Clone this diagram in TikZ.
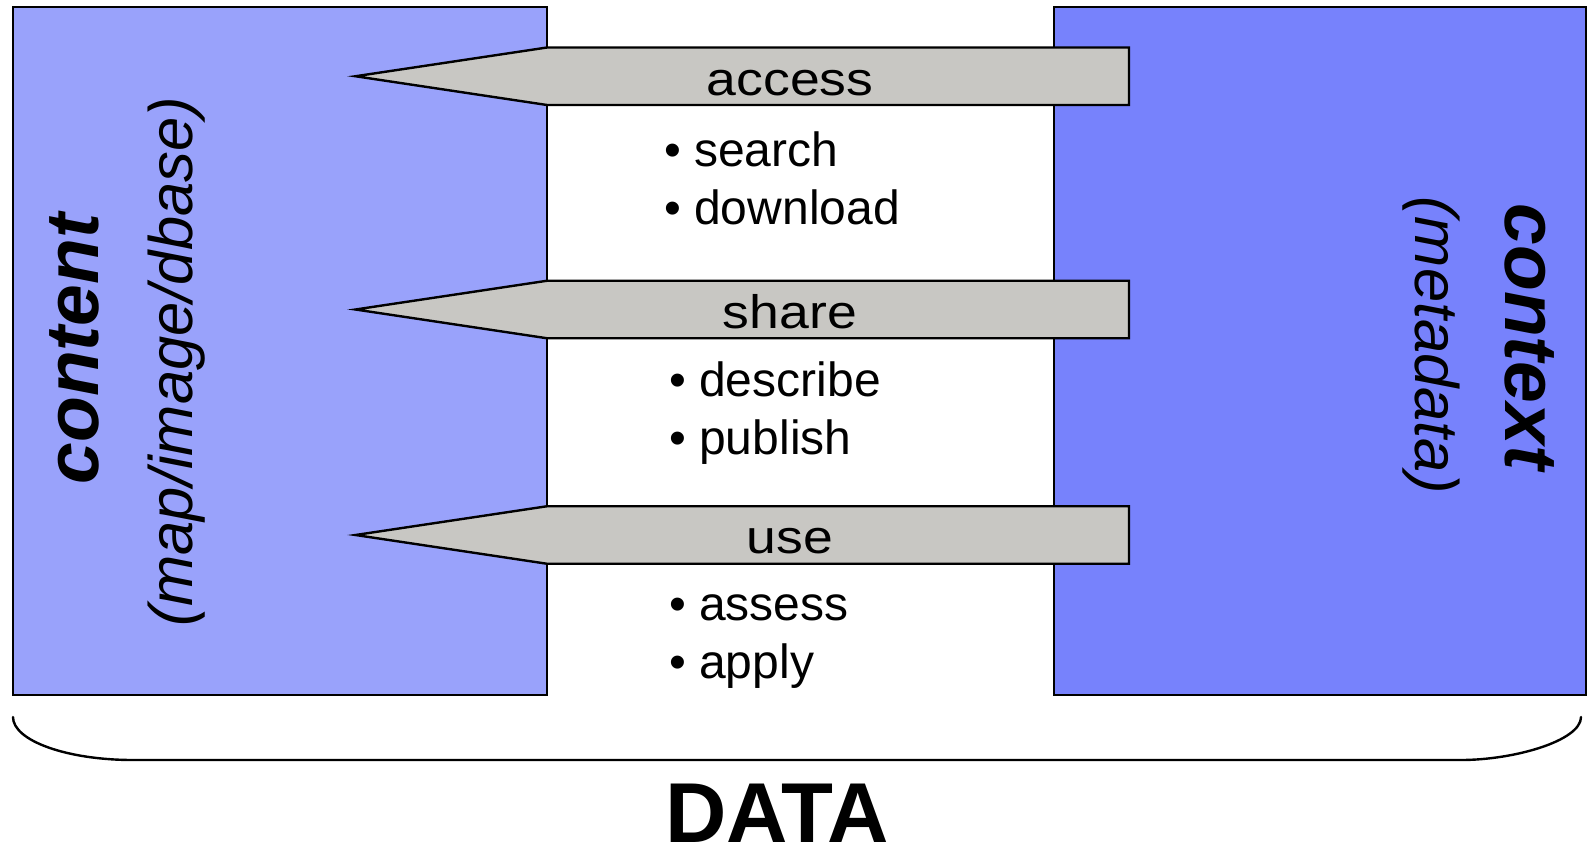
\documentclass[tikz,border=0pt]{standalone}
\usepackage{fontspec}
\usepackage{graphicx}
\setmainfont{Liberation Sans}
\definecolor{contentblue}{HTML}{99A2FB}
\definecolor{contextblue}{HTML}{7782FC}
\definecolor{stepgray}{HTML}{C8C7C3}
\begin{document}
\begin{tikzpicture}[x=1pt,y=-1pt,
  panel/.style={draw=black,line width=2pt},
  blockarrow/.style={draw=black,fill=stepgray,line width=2.4pt,line join=miter},
  lbl/.style={inner sep=0pt,anchor=base,font=\fontsize{47}{56}\selectfont},
  item/.style={inner sep=0pt,anchor=base west,font=\fontsize{48}{58}\selectfont},
  side/.style={inner sep=0pt,anchor=base,font=\fontsize{75}{90}\selectfont\bfseries\itshape},
  sidenote/.style={inner sep=0pt,anchor=base,font=\fontsize{61.5}{74}\selectfont\itshape},
  brace/.style={draw=black,line width=2.4pt,line cap=round}]
\useasboundingbox (0,0) rectangle (1587,848);

% the two halves of the data: content and context
\draw[panel,fill=contentblue] (13,7.5) rectangle (547,695);
\draw[panel,fill=contextblue] (1054,7.5) rectangle (1586,695);

\node[side,rotate=90] (content) at (98,349) {content};
\node[sidenote,rotate=90] (contentnote) at (192,362) {(map/image/dbase)};
\node[side,rotate=-90] (context) at (1505,337) {context};
\node[sidenote,rotate=-90] (contextnote) at (1415,345) {(metadata)};

% block arrows pointing from context to content
\draw[blockarrow] (1129,47.5) -- (547,47.5) -- (355.5,76.25) -- (547,105) -- (1129,105) -- cycle;
\draw[blockarrow] (1129,280.75) -- (547,280.75) -- (355.5,309.5) -- (547,338.25) -- (1129,338.25) -- cycle;
\draw[blockarrow] (1129,506.25) -- (547,506.25) -- (355.5,535) -- (547,563.75) -- (1129,563.75) -- cycle;

\node[lbl] (access) at (790,96) {\scalebox{1.14}[1]{access}};
\node[lbl] (share) at (790,328) {\scalebox{1.14}[1]{share}};
\node[lbl] (use) at (790,553) {\scalebox{1.14}[1]{use}};

% activities under each arrow
\node[item] (search) at (664,166) {• search};
\node[item] (download) at (664,224) {• download};
\node[item] (describe) at (669,396) {• describe};
\node[item] (publish) at (669,454) {• publish};
\node[item] (assess) at (669,620) {• assess};
\node[item] (apply) at (669,678) {• apply};

% brace spanning both panels
\coordinate (braceL) at (13,717);
\coordinate (braceR) at (1581,717);
\draw[brace] (braceL) .. controls (13,740.7) and (66.7,760) .. (133,760)
  -- (1461,760) .. controls (1514.3,760) and (1581,740.7) .. (braceR);

\node[inner sep=0pt,anchor=base,font=\fontsize{85}{100}\selectfont\bfseries] (data) at (777,842) {DATA};
\end{tikzpicture}
\end{document}
